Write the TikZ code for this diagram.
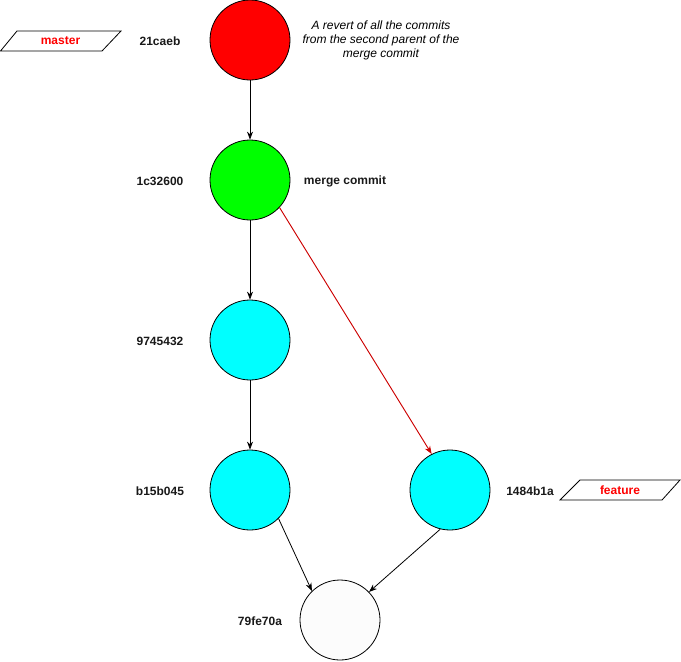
\documentclass[tikz,border=0pt]{standalone}
\usepackage{fontspec}
\setmainfont{Liberation Sans}
\usetikzlibrary{arrows.meta}
\definecolor{cred}{HTML}{FF0000}
\definecolor{cgreen}{HTML}{00FF00}
\definecolor{ccyan}{HTML}{00FFFF}
\definecolor{cwhite}{HTML}{FCFCFC}
\begin{document}
\begin{tikzpicture}[x=0.75pt,y=-0.75pt,
  commit/.style={circle,draw=black,line width=0.6pt,minimum size=60pt,inner sep=0pt},
  hash/.style={font=\fontsize{9}{10.5}\selectfont\bfseries,text=black!90},
  note/.style={font=\fontsize{9}{10.5}\selectfont\itshape,align=center},
  branchbox/.style={draw=black,line width=0.6pt,fill=white},
  branchtext/.style={font=\fontsize{9}{10.5}\selectfont\bfseries,text=red},
  edge/.style={draw=black,line width=0.6pt,-{Stealth[length=6pt,width=4.5pt]}},
  redge/.style={draw=red!80!black,line width=0.7pt,-{Stealth[length=6pt,width=4.5pt]}}]
\useasboundingbox (0,0) rectangle (681,661);
\node[commit,fill=cred] (c1) at (250,40) {};
\node[commit,fill=cgreen] (c2) at (250,180) {};
\node[commit,fill=ccyan] (c3) at (250,340) {};
\node[commit,fill=ccyan] (c4) at (250,490) {};
\node[commit,fill=ccyan] (c5) at (450,490) {};
\node[commit,fill=cwhite] (c6) at (340,620) {};
\node[hash] (h1) at (160,41) {21caeb};
\node[hash] (h2) at (160,181) {1c32600};
\node[hash] (h3) at (160,341) {9745432};
\node[hash] (h4) at (160,491) {b15b045};
\node[hash] (h5) at (530,491) {1484b1a};
\node[hash] (h6) at (260,621) {79fe70a};
\node[hash] (mc) at (345,181) {merge commit};
\node[note] (nt) at (381,40) {A revert of all the commits\\from the second parent of the\\merge commit};
\draw[branchbox] (0.5,51) -- (17,31) -- (121,31) -- (102,51) -- cycle;
\node[branchtext] (bm) at (60.5,41) {master};
\draw[branchbox] (560,500) -- (580,480) -- (680,480) -- (662,500) -- cycle;
\node[branchtext] (bf) at (620,490) {feature};
\draw[edge] (c1) -- (c2);
\draw[edge] (c2) -- (c3);
\draw[edge] (c3) -- (c4);
\draw[edge] (c4.-45) -- (c6.134);
\draw[edge] (c5.-104) -- (c6.44);
\draw[redge] (c2.-43) -- (c5.117);
\end{tikzpicture}
\end{document}
